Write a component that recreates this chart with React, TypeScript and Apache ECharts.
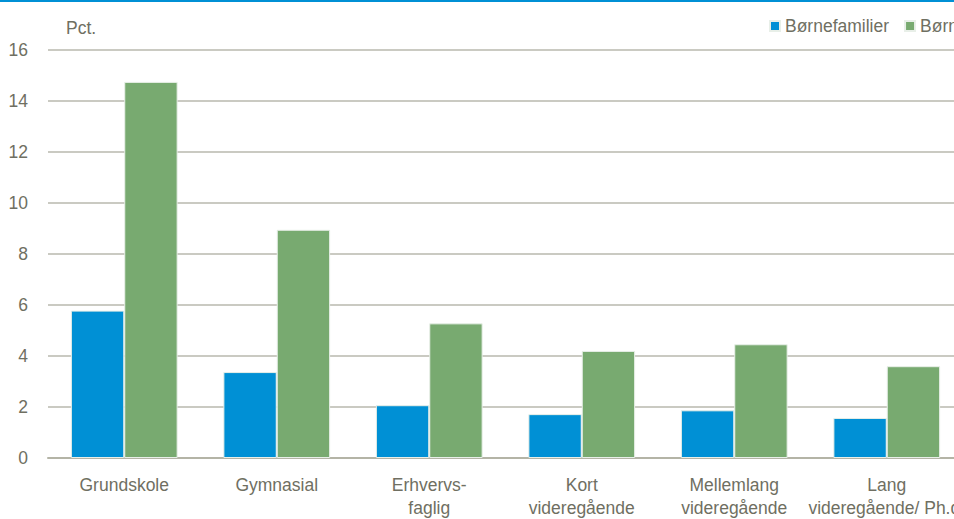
import React, { useEffect, useRef } from "react";
import * as echarts from "echarts";

const categories = [
  "Grundskole",
  "Gymnasial",
  "Erhvervs-\nfaglig",
  "Kort\nvideregående",
  "Mellemlang\nvideregående",
  "Lang\nvideregående/ Ph.d.",
];
const seriesNames = ["Børnefamilier", "Børn"];
const familyValues = [5.78, 3.37, 2.07, 1.72, 1.87, 1.57];
const childValues = [14.75, 8.95, 5.28, 4.2, 4.46, 3.6];
const yTicks = { min: 0, max: 16, interval: 2 };

const FONT = "'Liberation Sans', Arial, sans-serif";
const FS = 17.5;
const TEXT = "#6f6f62";
const BLUE = "#0090d5";
const GREEN = "#78aa70";

export default function App() {
  const ref = useRef<HTMLDivElement>(null);
  useEffect(() => {
    document.body.style.margin = "0";
    const chart = echarts.init(ref.current!, null, { renderer: "svg" });
    chart.setOption({
      animation: false,
      textStyle: { fontFamily: FONT, color: TEXT },
      color: [BLUE, GREEN],
      legend: {
        data: seriesNames,
        left: 769,
        top: 17,
        padding: 0,
        itemWidth: 10,
        itemHeight: 10,
        itemGap: 15,
        icon: "rect",
        textStyle: { fontFamily: FONT, fontSize: FS, color: TEXT },
      },
      graphic: [
        { type: "rect", left: 0, top: 0, shape: { width: 1000, height: 2 }, style: { fill: BLUE } },
        {
          type: "text",
          left: 66,
          top: 19,
          style: { text: "Pct.", fontFamily: FONT, fontSize: FS, fill: TEXT },
        },
      ],
      grid: { left: 48, right: 37, top: 50, bottom: 61, containLabel: false },
      xAxis: {
        type: "category",
        data: categories,
        axisTick: { show: false },
        axisLine: { lineStyle: { color: "#b4b4a6", width: 2 } },
        axisLabel: {
          interval: 0,
          margin: 15,
          fontSize: FS,
          lineHeight: 23,
          color: TEXT,
          fontFamily: FONT,
        },
      },
      yAxis: {
        type: "value",
        min: yTicks.min,
        max: yTicks.max,
        interval: yTicks.interval,
        axisLine: { show: false },
        axisTick: { show: false },
        splitLine: { lineStyle: { color: "#cacac2", width: 2 } },
        axisLabel: { margin: 20, fontSize: FS, color: TEXT, fontFamily: FONT },
      },
      series: [
        {
          name: seriesNames[0],
          type: "bar",
          data: familyValues,
          barCategoryGap: "30%",
          barGap: "0%",
          itemStyle: { color: BLUE, borderColor: "#e8efe8", borderWidth: 1 },
        },
        {
          name: seriesNames[1],
          type: "bar",
          data: childValues,
          itemStyle: { color: GREEN, borderColor: "#e8efe8", borderWidth: 1 },
        },
      ],
    });
    return () => chart.dispose();
  }, []);
  return (
    <div style={{ width: 954, height: 519, overflow: "hidden", position: "relative" }}>
      <div ref={ref} style={{ width: 1000, height: 519 }} />
    </div>
  );
}
